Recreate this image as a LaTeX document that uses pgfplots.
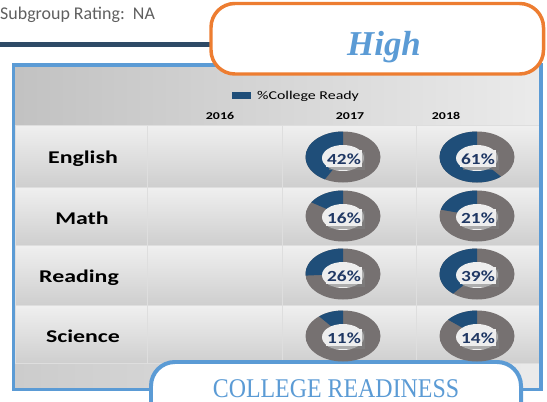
\documentclass[border=0pt]{standalone}
\usepackage{pgfplots}
\pgfplotsset{compat=1.18}
\usepackage{pgfplotstable}
\usepackage{graphicx}
\usepackage{fontspec}
\setmainfont{Carlito}
\newfontfamily\serif{Liberation Serif}

\definecolor{navyline}{RGB}{46,74,102}
\definecolor{orng}{RGB}{237,125,49}
\definecolor{accent}{RGB}{91,155,213}
\definecolor{donutblue}{RGB}{31,78,121}
\definecolor{donutgray}{RGB}{118,113,113}
\definecolor{labelnavy}{RGB}{32,56,100}
\definecolor{holecol}{RGB}{238,238,238}
\definecolor{subgray}{RGB}{95,95,95}

\newcommand\sx[1]{\scalebox{1.33}[1]{#1}}
\tikzset{cell/.style={top color=black!6, middle color=black!3, bottom color=black!19, draw=black!13, line width=0.8}}

% donut centres (picture units) and % college ready
\pgfplotstableread{
x   y   v
343 157 42
477 157 61
343 216 16
477 216 21
343 274 26
477 274 39
343 336 11
477 336 14
}\donuts

\begin{document}
\begin{tikzpicture}
\begin{axis}[name=ax, scale only axis, width=547bp, height=402bp,
  xmin=0, xmax=547, ymin=0, ymax=402, y dir=reverse,
  hide axis, clip=false]

% panel background
\fill[black!18] (13,65) rectangle (541,389);
\shade[left color=black!24, right color=black!8] (15,67) rectangle (539,125);
\shade[left color=black!20, right color=black!8] (15,363) rectangle (539,387);
% cells
\shade[cell] (15,125) rectangle (147,187);
\shade[cell] (147,125) rectangle (282,187);
\shade[cell] (282,125) rectangle (416,187);
\shade[cell] (416,125) rectangle (539,187);
\shade[cell] (15,187) rectangle (147,245);
\shade[cell] (147,187) rectangle (282,245);
\shade[cell] (282,187) rectangle (416,245);
\shade[cell] (416,187) rectangle (539,245);
\shade[cell] (15,245) rectangle (147,305);
\shade[cell] (147,245) rectangle (282,305);
\shade[cell] (282,245) rectangle (416,305);
\shade[cell] (416,245) rectangle (539,305);
\shade[cell] (15,305) rectangle (147,363);
\shade[cell] (147,305) rectangle (282,363);
\shade[cell] (282,305) rectangle (416,363);
\shade[cell] (416,305) rectangle (539,363);
\draw[accent, line width=4] (13.5,65) rectangle (541,389.5);

% top decorations
\node[anchor=base west, text=subgray, font=\fontsize{18}{18}\selectfont, inner sep=0]
  at (0,20) {Subgroup Rating:\ \ NA};
\draw[navyline, line width=5] (-5,44.5) -- (215,44.5);
\draw[orng, line width=3.5, fill=white, rounded corners=24] (211,3.5) rectangle (543.5,74);
\node[anchor=base, text=accent, inner sep=0] at (384,55)
  {\serif\bfseries\itshape\fontsize{35}{35}\selectfont High};

% legend
\fill[donutblue] (232,92) rectangle (251,99);
\node[anchor=west, inner sep=0] at (257,96.5) {\sx{\fontsize{12}{12}\selectfont\%College Ready}};

% year headers
\node[anchor=base, inner sep=0] at (220,119.5) {\sx{\bfseries\fontsize{10.5}{10.5}\selectfont 2016}};
\node[anchor=base, inner sep=0] at (350,119.5) {\sx{\bfseries\fontsize{10.5}{10.5}\selectfont 2017}};
\node[anchor=base, inner sep=0] at (446,119.5) {\sx{\bfseries\fontsize{10.5}{10.5}\selectfont 2018}};

% row labels
\node[anchor=base, inner sep=0] at (83,163) {\sx{\bfseries\fontsize{18}{18}\selectfont English}};
\node[anchor=base, inner sep=0] at (82,224) {\sx{\bfseries\fontsize{18}{18}\selectfont Math}};
\node[anchor=base, inner sep=0] at (79,282) {\sx{\bfseries\fontsize{18}{18}\selectfont Reading}};
\node[anchor=base, inner sep=0] at (83,342) {\sx{\bfseries\fontsize{18}{18}\selectfont Science}};

% donuts
\addplot[only marks, mark=*, mark size=0.01pt,
  mark options={draw opacity=0, fill opacity=0},
  scatter, point meta=explicit symbolic,
  scatter/@pre marker code/.code={%
    \pgfscope
    \pgfsetfillopacity{1}%
    \pgfsetstrokeopacity{1}%
    \edef\pct{\pgfplotspointmeta}%
    \pgfmathsetmacro\endang{90+3.6*\pct}%
    \pgfsetfillcolor{donutgray}%
    \pgfpathellipse{\pgfpointorigin}{\pgfpoint{37.5bp}{0bp}}{\pgfpoint{0bp}{25.5bp}}%
    \pgfusepath{fill}%
    \pgfsetfillcolor{donutblue}%
    \pgfpathmoveto{\pgfpointorigin}%
    \pgfpathlineto{\pgfpoint{0bp}{25.5bp}}%
    \pgfpatharc{90}{\endang}{37.5bp and 25.5bp}%
    \pgfpathclose
    \pgfusepath{fill}%
    \pgfsetfillcolor{holecol}%
    \pgfpathellipse{\pgfpoint{0bp}{-1bp}}{\pgfpoint{21bp}{0bp}}{\pgfpoint{0bp}{13bp}}%
    \pgfusepath{fill}%
    \pgfsetfillcolor{black!50}%
    \pgfsetfillopacity{0.6}%
    \pgfpathrectanglecorners{\pgfpoint{-14bp}{-13bp}}{\pgfpoint{22bp}{5bp}}%
    \pgfusepath{fill}%
    \pgfsetfillopacity{1}%
    \pgfsetfillcolor{holecol}%
    \pgfpathrectanglecorners{\pgfpoint{-17bp}{-10bp}}{\pgfpoint{19bp}{7.5bp}}%
    \pgfusepath{fill}%
    \pgftext[at=\pgfpoint{1bp}{-2bp}]{\scalebox{1.25}[1]{\color{labelnavy}\bfseries\fontsize{15.5}{15.5}\selectfont\pct\%}}%
  },
  scatter/@post marker code/.code={\endpgfscope}
] table[x=x, y=y, meta=v] {\donuts};

% bottom title box
\draw[accent, line width=4, fill=white, rounded corners=24] (151,362) rectangle (521,440);
\node[anchor=base, text=accent, inner sep=0] at (336,397)
  {\scalebox{1}[1.13]{\serif\fontsize{24}{24}\selectfont COLLEGE READINESS}};
\end{axis}
\pgfresetboundingbox
\path (ax.south west) rectangle (ax.north east);
\end{tikzpicture}
\end{document}
